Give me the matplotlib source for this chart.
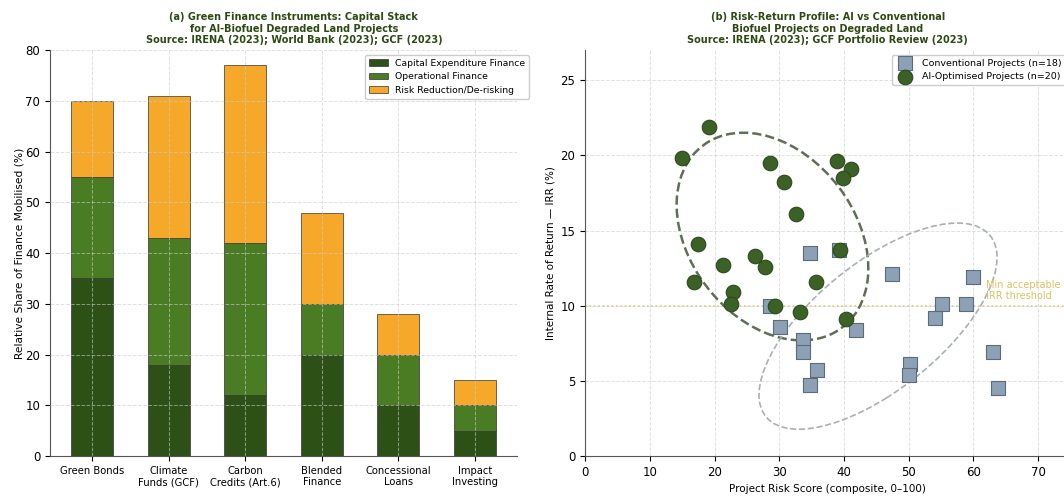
import matplotlib
matplotlib.use('Agg')
import matplotlib.pyplot as plt
from matplotlib.patches import Ellipse
import numpy as np

# panel (a) - capital stack by instrument
instruments = ['Green Bonds', 'Climate\nFunds (GCF)', 'Carbon\nCredits (Art.6)',
               'Blended\nFinance', 'Concessional\nLoans', 'Impact\nInvesting']
capex = [35, 18, 12, 20, 10, 5]
operational = [20, 25, 30, 10, 10, 5]
derisking = [15, 28, 35, 18, 8, 5]

# panel (b) - risk score vs IRR
conv_risk = [34.7, 39.2, 47.4, 60.0, 55.1, 58.8, 54.1, 28.5, 30.1,
             41.8, 33.7, 33.7, 35.8, 34.7, 50.2, 50.1, 63.1, 63.8]
conv_irr = [13.5, 13.7, 12.1, 11.9, 10.1, 10.1, 9.2, 10.0, 8.6,
            8.4, 7.7, 6.9, 5.7, 4.7, 6.1, 5.4, 6.9, 4.5]
ai_risk = [19.2, 15.0, 28.6, 30.8, 32.6, 39.0, 41.1, 39.8, 17.4, 26.3,
           27.8, 21.3, 16.8, 35.7, 39.4, 22.8, 22.6, 29.3, 33.2, 40.3]
ai_irr = [21.9, 19.8, 19.5, 18.2, 16.1, 19.6, 19.1, 18.5, 14.1, 13.3,
          12.6, 12.7, 11.6, 11.6, 13.7, 10.9, 10.1, 10.0, 9.6, 9.1]
irr_threshold = 10

c_capex = '#2d5016'
c_oper = '#4a7c23'
c_risk = '#f5a82a'
title_col = '#2d4a14'

fig = plt.figure(figsize=(10.64, 4.97), dpi=100)
ax1 = fig.add_axes([0.047, 0.0825, 0.439, 0.8165])
ax2 = fig.add_axes([0.55, 0.0825, 0.456, 0.8165])

x = np.arange(len(instruments))
w = 0.55
b1 = np.array(capex)
b2 = b1 + np.array(operational)
ax1.bar(x, capex, w, color=c_capex, edgecolor='#333333', linewidth=0.5,
        label='Capital Expenditure Finance')
ax1.bar(x, operational, w, bottom=b1, color=c_oper, edgecolor='#333333',
        linewidth=0.5, label='Operational Finance')
ax1.bar(x, derisking, w, bottom=b2, color=c_risk, edgecolor='#333333',
        linewidth=0.5, label='Risk Reduction/De-risking')
ax1.set_xticks(x)
ax1.set_xticklabels(instruments, fontsize=7.2)
ax1.set_ylim(0, 80)
ax1.tick_params(axis='y', labelsize=8.5)
ax1.set_ylabel('Relative Share of Finance Mobilised (%)', fontsize=7.7, labelpad=1)
ax1.set_title('(a) Green Finance Instruments: Capital Stack\n'
              'for AI-Biofuel Degraded Land Projects\n'
              'Source: IRENA (2023); World Bank (2023); GCF (2023)',
              fontsize=7, fontweight='bold', color=title_col, pad=5, x=0.522)
ax1.legend(loc='upper right', bbox_to_anchor=(1.035, 1.0), fontsize=6.7,
           framealpha=1, edgecolor='#cccccc')
ax1.grid(True, linestyle='--', color='#cccccc', alpha=0.6, linewidth=0.7)

# scatter
ax2.scatter(conv_risk, conv_irr, marker='s', s=100, color='#8ca1b5',
            edgecolor='#5b6b7b', linewidth=0.8, zorder=3,
            label='Conventional Projects (n=%d)' % len(conv_risk))
ax2.scatter(ai_risk, ai_irr, marker='o', s=110, color='#3b6127',
            edgecolor='#2a4a1a', linewidth=0.8, zorder=4,
            label='AI-Optimised Projects (n=%d)' % len(ai_risk))

ax2.add_patch(Ellipse((np.mean(ai_risk), np.mean(ai_irr)), 30, 13, angle=-10,
                      fill=False, linestyle='--', edgecolor='#5f6e55',
                      linewidth=1.8, zorder=2))
ax2.add_patch(Ellipse((np.mean(conv_risk), np.mean(conv_irr)), 38, 9.9, angle=15,
                      fill=False, linestyle='--', edgecolor='#a9b0b3',
                      linewidth=1.2, zorder=2))

ax2.axhline(irr_threshold, color='#d9be55', linestyle=':', linewidth=1.2, alpha=0.8, zorder=1)
ax2.text(62, irr_threshold + 0.3, 'Min acceptable\nIRR threshold', fontsize=7,
         color='#dcc060', va='bottom')

ax2.set_xlim(0, 75)
ax2.set_ylim(0, 27)
ax2.set_yticks([0, 5, 10, 15, 20, 25])
ax2.tick_params(labelsize=8.5)
ax2.set_xlabel('Project Risk Score (composite, 0–100)', fontsize=7.5)
ax2.set_ylabel('Internal Rate of Return — IRR (%)', fontsize=7.5)
ax2.set_title('(b) Risk-Return Profile: AI vs Conventional\n'
              'Biofuel Projects on Degraded Land\n'
              'Source: IRENA (2023); GCF Portfolio Review (2023)',
              fontsize=7, fontweight='bold', color=title_col, pad=5)
ax2.legend(loc='upper right', fontsize=6.8, framealpha=1, edgecolor='#cccccc')
ax2.grid(True, linestyle='--', color='#cccccc', alpha=0.6, linewidth=0.7)

for ax in (ax1, ax2):
    ax.spines['top'].set_visible(False)
    ax.spines['right'].set_visible(False)
    ax.spines['left'].set_color('#555555')
    ax.spines['bottom'].set_color('#555555')

fig.savefig('out.png', dpi=100)
